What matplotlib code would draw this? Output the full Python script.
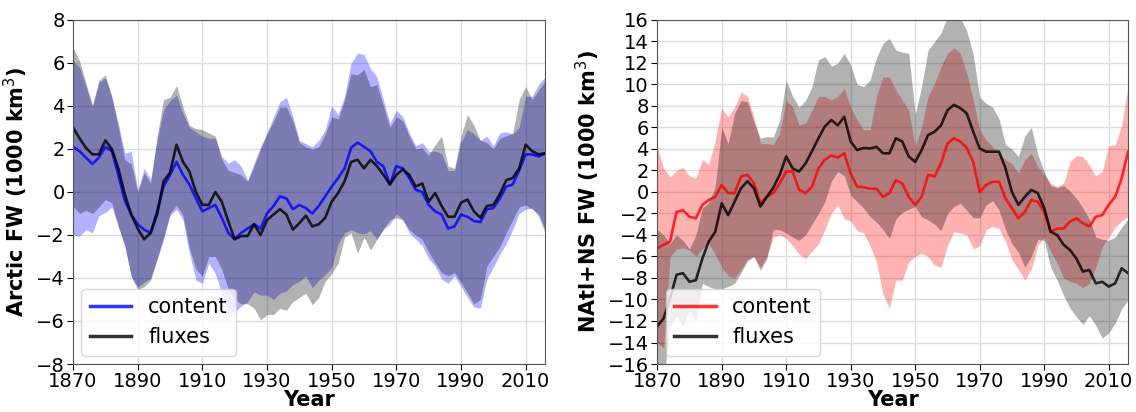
import numpy as np
import matplotlib
matplotlib.use("Agg")
import matplotlib.pyplot as plt

years = np.arange(1870, 2017, 2)

# ---- Left panel: Arctic FW ----
arc_content = [2.1, 1.9, 1.6, 1.3, 1.6, 2.1, 1.9, 0.8, -0.4, -1.05, -1.5, -1.75, -1.9, -0.9, 0.25,
               0.8, 1.4, 0.8, 0.35, -0.3, -0.9, -0.75, -0.6, -1.2, -1.9, -2.2, -1.9, -1.7, -1.5, -1.7,
               -1.0, -0.65, -0.2, -0.3, -0.8, -0.6, -0.75, -1.0, -0.65, -0.2, 0.25, 0.65, 1.1, 2.05,
               2.3, 2.1, 1.9, 1.4, 1.2, 0.35, 1.2, 1.1, 0.65, 0.1, 0.0, -0.6, -0.9, -1.05, -1.7, -1.6,
               -1.05, -1.15, -1.35, -1.4, -0.8, -0.75, -0.3, 0.25, 0.35, 1.0, 1.75, 1.75, 1.65, 1.8]
arc_flux = [3.0, 2.5, 2.05, 1.75, 1.75, 2.4, 2.0, 1.1, -0.1, -1.05, -1.7, -2.2, -1.9, -1.05, 0.5,
            0.9, 2.2, 1.4, 0.95, 0.0, -0.6, -0.6, 0.0, -0.45, -1.35, -2.2, -2.05, -2.05, -1.5, -2.0,
            -1.3, -1.05, -0.8, -1.05, -1.75, -1.45, -1.1, -1.6, -1.5, -1.2, -0.45, -0.05, 0.5, 1.4,
            1.5, 1.1, 1.5, 1.2, 0.8, 0.35, 0.8, 1.05, 0.8, 0.25, 0.4, -0.45, -0.05, -0.65, -1.15, -1.15,
            -0.5, -0.35, -0.9, -1.2, -0.65, -0.6, -0.1, 0.55, 0.65, 1.1, 2.2, 1.9, 1.75, 1.8]
arc_content_hi = [6.1, 5.8, 4.9, 3.95, 5.1, 5.3, 4.4, 3.2, 1.8, 1.9, 0.1, 1.1, 0.6, 2.4, 3.8,
                  4.25, 4.5, 3.65, 3.0, 2.8, 2.6, 2.5, 2.5, 1.65, 1.35, 1.5, 1.2, 0.55, 1.35, 2.1,
                  2.75, 3.5, 4.2, 4.4, 3.5, 2.4, 2.25, 2.1, 2.4, 2.9, 4.0, 3.6, 4.45, 6.0,
                  6.45, 6.4, 5.75, 5.35, 4.3, 3.2, 3.8, 3.5, 2.75, 2.15, 2.3, 1.9, 1.9, 1.8, 1.0, 1.0,
                  2.3, 2.9, 2.7, 2.4, 2.6, 2.15, 2.75, 2.8, 2.7, 3.0, 4.45, 4.45, 5.0, 5.35]
arc_flux_hi = [6.7, 6.1, 5.05, 4.05, 5.2, 5.45, 4.45, 3.0, 1.5, 1.3, 0.0, 0.9, 0.4, 2.6, 4.3,
               4.4, 4.95, 3.95, 3.1, 2.95, 2.9, 2.75, 2.6, 1.5, 1.0, 0.9, 0.8, 0.5, 1.2, 2.0,
               2.7, 3.3, 3.95, 3.95, 3.3, 2.3, 2.1, 2.0, 2.1, 2.7, 3.5, 3.4, 4.3, 5.5,
               5.45, 5.7, 4.9, 5.0, 4.0, 3.0, 3.5, 3.3, 2.6, 2.0, 2.05, 1.7, 2.2, 2.6, 1.2, 1.1,
               2.6, 3.6, 3.1, 2.4, 2.3, 2.0, 2.5, 2.6, 2.75, 4.3, 4.9, 4.3, 4.75, 5.15]
arc_content_lo = [-2.0, -2.05, -1.75, -1.9, -1.1, -0.95, -0.7, -1.6, -2.5, -3.95, -4.4, -4.2, -4.0, -3.15, -2.2,
                  -1.1, -0.8, -1.3, -2.85, -4.1, -4.25, -3.3, -3.8, -4.7, -5.6, -5.6, -5.3, -5.1, -4.65, -4.8,
                  -4.8, -5.0, -4.7, -4.6, -4.3, -4.15, -3.9, -4.45, -4.1, -3.85, -3.5, -2.4, -1.9, -1.75,
                  -1.9, -1.95, -1.8, -2.2, -1.75, -1.5, -1.0, -1.3, -1.9, -2.2, -2.5, -3.1, -3.45, -4.05, -4.25, -3.9,
                  -4.4, -4.9, -5.35, -5.4, -4.05, -3.5, -2.9, -2.4, -1.75, -1.0, -0.8, -0.75, -1.15, -1.9]
arc_flux_lo = [-0.65, -1.0, -0.85, -1.0, -0.7, -0.35, -0.5, -1.6, -2.5, -3.9, -4.55, -4.4, -4.1, -3.1, -2.1,
               -1.0, -0.6, -1.1, -2.6, -3.6, -3.9, -3.0, -3.0, -3.6, -4.5, -5.0, -5.2, -5.2, -5.4, -5.95,
               -5.7, -5.7, -5.4, -5.5, -5.1, -4.9, -4.7, -5.25, -4.9, -4.15, -3.8, -3.3, -2.1, -1.9,
               -2.85, -2.1, -2.7, -2.2, -1.7, -1.3, -1.2, -1.3, -1.75, -2.0, -2.2, -2.8, -3.3, -3.75, -3.9, -3.75,
               -4.2, -4.7, -5.2, -5.0, -3.45, -3.0, -2.55, -1.9, -1.3, -0.7, -0.6, -0.8, -1.0, -1.75]

# ---- Right panel: NAtl+NS FW ----
nat_content = [-5.25, -4.9, -4.6, -1.85, -1.7, -2.3, -2.45, -1.2, -0.75, -0.45, 0.65, -0.1, -0.1, 1.45, 1.6,
               0.8, -1.05, -0.45, -0.1, 0.8, 1.9, 1.9, 0.2, -0.1, 0.5, 2.2, 3.0, 3.4, 3.2, 3.6,
               1.7, 0.5, 0.45, 0.3, 0.3, -0.45, -0.1, 1.1, 0.8, -0.45, -1.2, -0.45, 1.6, 1.45,
               2.65, 4.5, 5.0, 4.7, 4.1, 2.8, 0.0, 0.65, 0.95, 0.95, -0.6, -1.5, -2.45, -1.85, -0.75, -0.9,
               -1.85, -3.7, -3.4, -3.4, -2.75, -2.45, -2.9, -3.2, -2.3, -2.15, -1.2, -0.45, 1.25, 3.75]
nat_flux = [-12.5, -11.75, -9.9, -7.7, -7.55, -8.35, -8.2, -6.2, -4.6, -3.7, -1.05, -2.15, -0.9, 0.35, 1.0,
            0.35, -1.35, -0.45, 0.4, 1.6, 3.3, 2.2, 1.9, 2.65, 3.8, 5.0, 6.1, 6.7, 6.2, 7.0,
            4.7, 3.9, 4.1, 4.05, 4.2, 3.6, 3.6, 5.0, 4.7, 3.3, 2.8, 3.9, 5.3, 5.6,
            6.2, 7.6, 8.1, 7.8, 7.3, 5.6, 4.05, 3.75, 3.75, 3.75, 2.2, 0.0, -1.2, -0.45, 0.2, -0.1,
            -1.5, -3.7, -4.0, -4.9, -5.4, -6.2, -7.4, -7.25, -8.5, -8.35, -8.8, -8.5, -7.1, -7.55]
nat_content_hi = [4.2, 2.2, 1.4, 2.0, 2.3, 1.5, 1.3, 3.0, 2.6, 4.8, 7.8, 7.0, 7.9, 9.3, 8.9,
                  7.0, 4.5, 4.5, 4.4, 5.45, 8.55, 7.9, 6.2, 6.4, 7.6, 8.9, 8.9, 8.55, 8.9, 9.65,
                  7.9, 6.7, 5.8, 5.8, 8.9, 10.7, 10.7, 9.5, 8.55, 7.6, 4.2, 6.1, 8.9, 10.1,
                  11.65, 12.9, 13.4, 12.9, 11.0, 8.55, 5.8, 4.85, 4.2, 3.6, 3.0, 2.65, 1.75, 3.0, 3.6, 2.35,
                  1.6, 0.8, 0.5, 0.8, 2.8, 3.4, 3.3, 2.5, 1.5, 1.9, 4.3, 4.4, 6.2, 9.8]
nat_flux_hi = [-3.5, -4.0, -4.8, -4.0, -4.5, -5.3, -4.0, -1.5, -1.0, 0.5, 6.0, 4.5, 7.3, 8.5, 8.4,
               6.5, 5.0, 5.15, 5.1, 6.7, 10.4, 8.9, 7.9, 8.5, 9.8, 12.3, 12.6, 11.7, 12.0, 12.9,
               11.8, 10.0, 9.8, 10.4, 12.5, 13.8, 14.3, 13.2, 13.0, 12.9, 7.2, 9.8, 13.2, 14.0,
               14.8, 16.3, 16.5, 16.2, 15.0, 12.8, 8.8, 8.25, 7.9, 6.8, 4.4, 4.0, 3.3, 5.2, 6.0, 3.5,
               1.9, 0.6, 0.4, 0.6, 0.1, -0.6, -1.5, -2.5, -4.2, -4.4, -4.5, -4.2, -3.3, -2.5]
nat_content_lo = [-14.0, -14.5, -6.0, -5.3, -5.2, -5.4, -6.0, -5.3, -4.8, -5.8, -7.0, -7.8, -8.0, -7.2, -6.3,
                  -6.0, -7.0, -6.0, -4.2, -4.0, -4.3, -5.0, -5.8, -6.2, -5.5, -4.8, -3.5, -2.0, -1.2, -2.5,
                  -2.7, -3.6, -3.8, -5.0, -6.5, -9.5, -10.8, -8.2, -8.2, -6.5, -6.0, -5.7, -6.0, -6.8,
                  -7.0, -5.0, -3.7, -3.8, -4.0, -5.3, -5.0, -3.5, -3.2, -3.4, -4.6, -6.3, -7.2, -8.2, -7.2, -5.0,
                  -4.2, -5.5, -6.6, -8.0, -8.3, -8.5, -8.9, -8.5, -7.0, -5.1, -4.2, -3.3, -2.7, -2.3]
nat_flux_lo = [-17.5, -17.5, -12.5, -11.5, -12.5, -11.0, -12.0, -8.5, -8.8, -9.0, -9.0, -8.8, -8.5, -7.5, -6.4,
               -6.0, -7.3, -6.2, -3.5, -3.5, -3.8, -4.2, -4.5, -4.0, -3.0, -2.0, -0.9, 1.0, 1.9, 1.5,
               -0.3, -0.9, -1.5, -2.3, -2.8, -3.5, -4.3, -2.5, -1.9, -1.6, -1.35, -2.3, -2.6, -3.0,
               -3.6, -2.0, -1.35, -1.05, -1.7, -2.4, -2.4, -1.2, -0.8, -1.7, -3.5, -4.8, -5.6, -7.0, -6.0, -4.4,
               -4.5, -7.0, -8.2, -9.6, -10.8, -11.6, -12.3, -11.5, -12.4, -13.6, -13.1, -12.2, -10.9, -10.0]

xticks = [1870, 1890, 1910, 1930, 1950, 1970, 1990, 2010]

fig = plt.figure(figsize=(11.36, 4.12), dpi=100)
ax1 = fig.add_axes([0.0643, 0.1165, 0.4155, 0.835])
ax2 = fig.add_axes([0.5785, 0.1165, 0.4145, 0.835])


def draw(ax, c_line, f_line, c_hi, c_lo, f_hi, f_lo, col, ylim, yticks, ylabel):
    ax.fill_between(years, c_lo, c_hi, color=col, alpha=0.3, lw=0)
    ax.fill_between(years, f_lo, f_hi, color="black", alpha=0.3, lw=0)
    ax.plot(years, c_line, color=col, alpha=0.8, lw=1.9, label="content")
    ax.plot(years, f_line, color="black", alpha=0.8, lw=1.9, label="fluxes")
    ax.set_xlim(1870, 2016)
    ax.set_ylim(*ylim)
    ax.set_xticks(xticks)
    ax.set_yticks(yticks)
    ax.grid(True, color="#dddddd", lw=1)
    ax.set_axisbelow(True)
    ax.tick_params(labelsize=14, length=4, pad=2)
    ax.set_xlabel("Year", fontsize=15, fontweight="bold", labelpad=-1)
    ax.set_ylabel(ylabel, fontsize=15, fontweight="bold")
    for s in ax.spines.values():
        s.set_color("#555555")
    leg = ax.legend(loc="lower left", fontsize=15, framealpha=0.8, handlelength=2.0,
                    borderaxespad=0.4)
    for h in leg.get_lines():
        h.set_linewidth(2.5)


draw(ax1, arc_content, arc_flux, arc_content_hi, arc_content_lo, arc_flux_hi, arc_flux_lo,
     "blue", (-8, 8), np.arange(-8, 9, 2), "Arctic FW (1000 km$^3$)")
draw(ax2, nat_content, nat_flux, nat_content_hi, nat_content_lo, nat_flux_hi, nat_flux_lo,
     "red", (-16, 16), np.arange(-16, 17, 2), "NAtl+NS FW (1000 km$^3$)")

fig.savefig("out.png", dpi=100)
